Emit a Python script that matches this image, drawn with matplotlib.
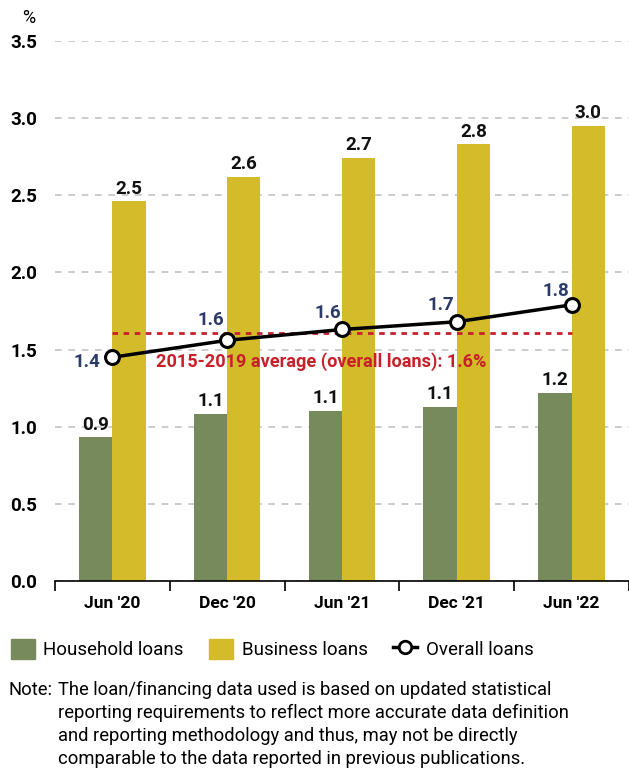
import numpy as np
import matplotlib
matplotlib.use("Agg")
import matplotlib.pyplot as plt
from matplotlib.patches import Patch
from matplotlib.lines import Line2D

plt.rcParams['font.family'] = ['Roboto', 'DejaVu Sans']

# data
periods = ["Jun '20", "Dec '20", "Jun '21", "Dec '21", "Jun '22"]
household = [0.93, 1.08, 1.10, 1.13, 1.22]
business = [2.46, 2.62, 2.74, 2.83, 2.95]
overall = [1.45, 1.56, 1.63, 1.68, 1.79]
household_lbl = ["0.9", "1.1", "1.1", "1.1", "1.2"]
business_lbl = ["2.5", "2.6", "2.7", "2.8", "3.0"]
overall_lbl = ["1.4", "1.6", "1.6", "1.7", "1.8"]
avg_2015_2019 = 1.607
yticks = [0.0, 0.5, 1.0, 1.5, 2.0, 2.5, 3.0, 3.5]

green = '#778a5c'
yellow = '#d4bb2a'
navy = '#2b3a67'
red = '#c8202a'

fig = plt.figure(figsize=(6.29, 7.69), dpi=100)
ax = fig.add_axes([0.0874, 0.2445, 0.9126, 0.7022])

x = np.arange(len(periods))
w = 0.29
ax.bar(x - w / 2, household, width=w, color=green, zorder=2)
ax.bar(x + w / 2, business, width=w, color=yellow, zorder=2)

for xi, v, s in zip(x, household, household_lbl):
    ax.text(xi - w / 2, v + 0.025, s, ha='center', va='bottom', fontsize=13.5, fontweight='bold', color='#111111')
for xi, v, s in zip(x, business, business_lbl):
    ax.text(xi + w / 2, v + 0.025, s, ha='center', va='bottom', fontsize=13.5, fontweight='bold', color='#111111')

# 2015-2019 average
ax.plot([x[0], x[-1]], [avg_2015_2019, avg_2015_2019], color=red, linestyle=(0, (2, 2)), linewidth=2, zorder=3)
ax.text(1.82, 1.42, '2015-2019 average (overall loans): 1.6%', ha='center', va='center',
        fontsize=13.1, fontweight='bold', color=red, zorder=4)

ax.plot(x, overall, color='black', linewidth=2.5, marker='o', markersize=10,
        markerfacecolor='white', markeredgecolor='black', markeredgewidth=2.2, zorder=5)
offsets = [(-0.22, -0.03), (-0.14, 0.13), (-0.12, 0.11), (-0.14, 0.11), (-0.14, 0.09)]
for xi, v, s, (dx, dy) in zip(x, overall, overall_lbl, offsets):
    ax.text(xi + dx, v + dy, s, ha='center', va='center', fontsize=13.5, fontweight='bold', color=navy, zorder=6)

ax.set_xlim(-0.5, 4.49)
ax.set_ylim(0, 3.5)
ax.set_yticks(yticks)
ax.set_yticklabels([f'{t:.1f}' for t in yticks], fontsize=13.5, fontweight='bold')
ax.set_xticks(np.arange(-0.5, 4.6, 1.0), minor=False)
ax.set_xticklabels([])
ax.set_xticks(x, minor=True)
ax.set_xticklabels(periods, minor=True, fontsize=12.5, fontweight='bold')
ax.tick_params(axis='x', which='major', length=7, width=1.2, direction='out', color='black')
ax.tick_params(axis='x', which='minor', length=0, pad=11)
ax.tick_params(axis='y', length=0, pad=13)

ax.yaxis.grid(True, color='#c4c4c4', linestyle=(0, (4, 4)), linewidth=1.2, zorder=0)
ax.set_axisbelow(True)
for side in ['top', 'right', 'left']:
    ax.spines[side].set_visible(False)
ax.spines['bottom'].set_linewidth(1.2)

fig.text(0.045, 0.977, '%', fontsize=13, ha='center', va='center')

handles = [Patch(color=green, label='Household loans'),
           Patch(color=yellow, label='Business loans'),
           Line2D([], [], color='black', linewidth=2.5, marker='o', markersize=9,
                  markerfacecolor='white', markeredgecolor='black', markeredgewidth=2,
                  label='Overall loans')]
fig.legend(handles=handles, loc='center left', bbox_to_anchor=(-0.01, 0.156), ncol=3, frameon=False,
           fontsize=13.5, handlelength=1.3, handleheight=1.3, handletextpad=0.45, columnspacing=1.35)

fig.text(0.013, 0.103, 'Note:', fontsize=13.2, va='center', ha='left')
note_lines = ['The loan/financing data used is based on updated statistical',
              'reporting requirements to reflect more accurate data definition',
              'and reporting methodology and thus, may not be directly',
              'comparable to the data reported in previous publications.']
for i, line in enumerate(note_lines):
    fig.text(0.092, 0.103 - i * 0.0299, line, fontsize=13.2, va='center', ha='left')

fig.savefig('out.png', dpi=100)
